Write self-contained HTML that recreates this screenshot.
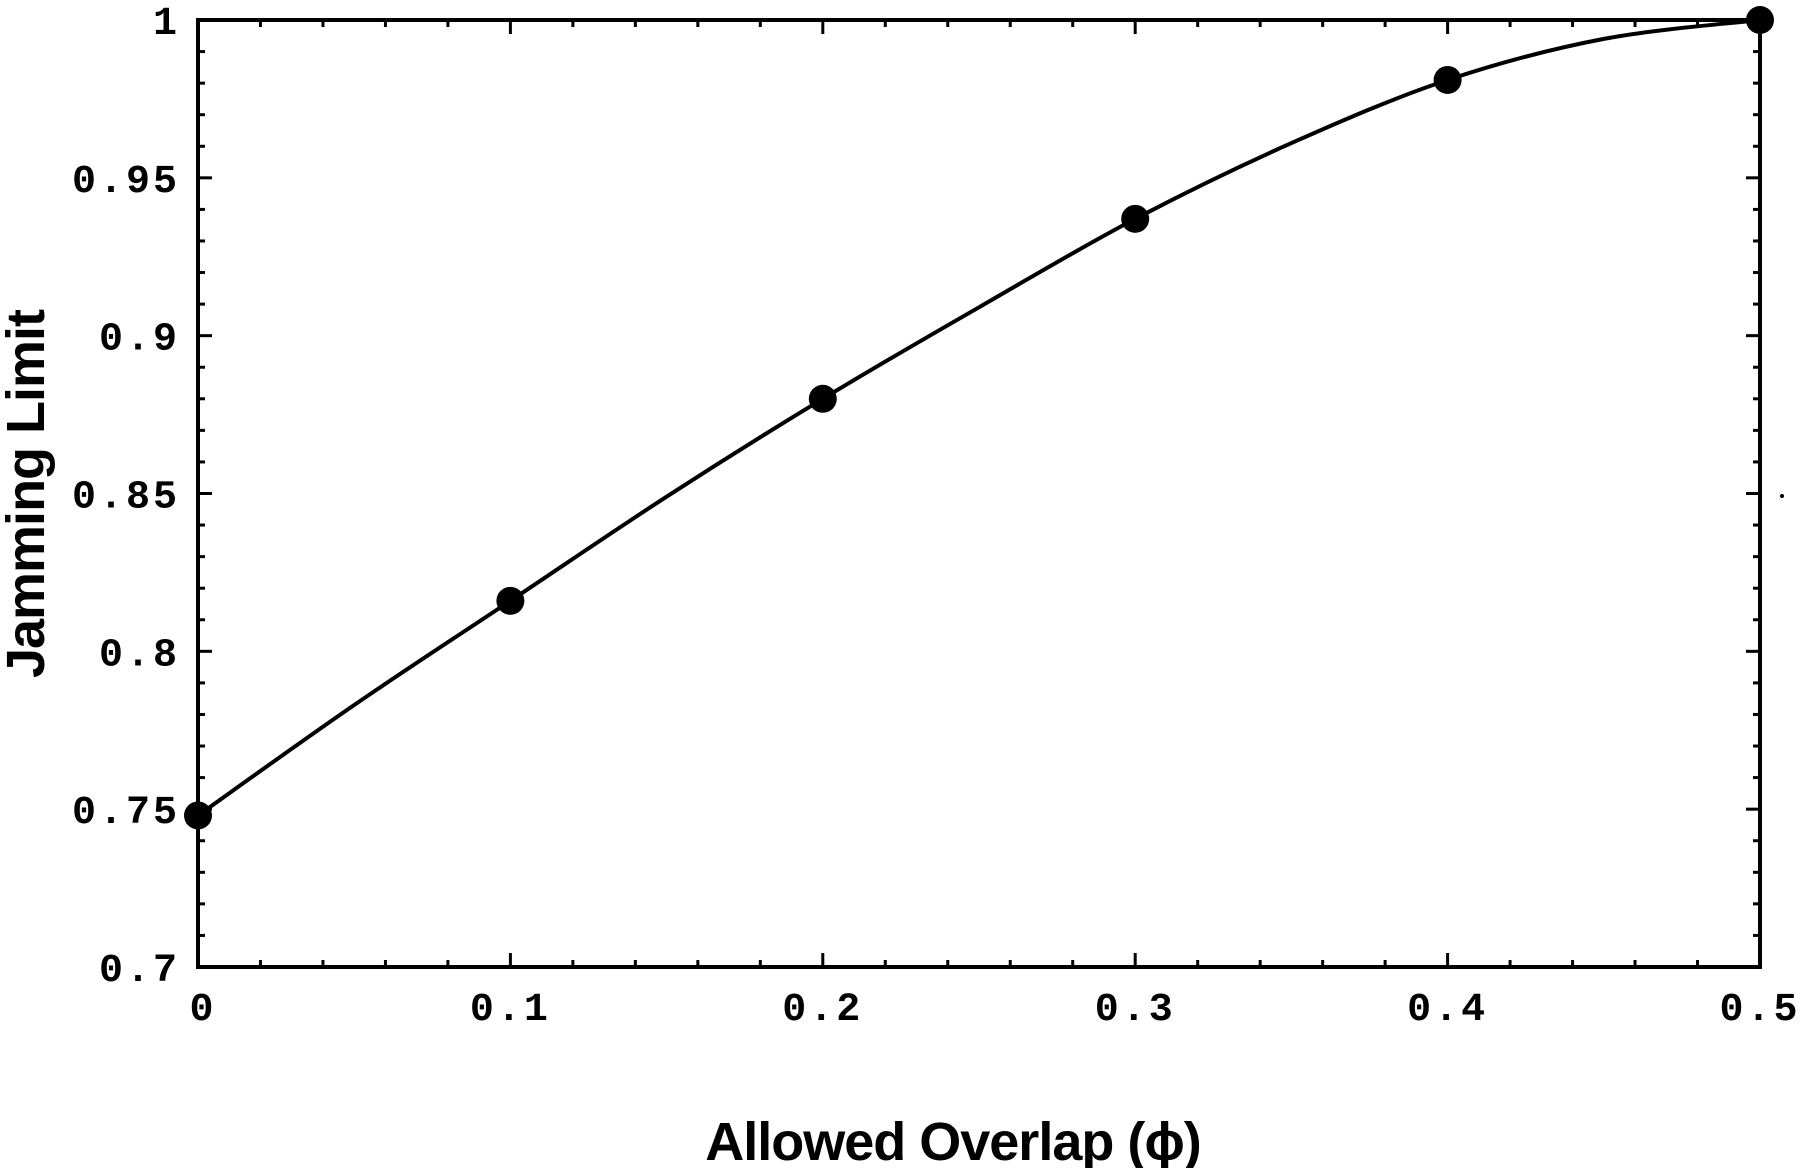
<!DOCTYPE html>
<html><head><meta charset="utf-8"><style>
html,body{margin:0;padding:0;background:#fff;}
svg{display:block;}
.tick{font-family:"Liberation Mono",monospace;font-weight:bold;font-size:40px;letter-spacing:3px;fill:#000;}
.title{font-family:"Liberation Sans",sans-serif;font-weight:bold;font-size:54px;fill:#000;letter-spacing:-1px;}
</style></head><body>
<svg id="chart" width="1800" height="1168" viewBox="0 0 1800 1168"></svg>
<script>
const xTicks=[0,0.1,0.2,0.3,0.4,0.5];
const xTickLabels=["0","0.1","0.2","0.3","0.4","0.5"];
const yTicks=[0.7,0.75,0.8,0.85,0.9,0.95,1];
const yTickLabels=["0.7","0.75","0.8","0.85","0.9","0.95","1"];
const pointX=[0,0.1,0.2,0.3,0.4,0.5];
const pointY=[0.748,0.816,0.880,0.937,0.981,1.0];
const curveX=[0,0.05,0.1,0.15,0.2,0.25,0.3,0.35,0.4,0.45,0.5];
const curveY=[0.748,0.783,0.816,0.849,0.880,0.909,0.937,0.961,0.981,0.994,1.0];

const L=198,R=1760,T=20,B=967;
const sx=v=>L+(v-0)/(0.5-0)*(R-L);
const sy=v=>B-(v-0.7)/(1-0.7)*(B-T);
const svg=document.getElementById('chart');
const NS='http://www.w3.org/2000/svg';
function mk(tag,attrs,parent){const e=document.createElementNS(NS,tag);for(const k in attrs)e.setAttribute(k,attrs[k]);(parent||svg).appendChild(e);return e;}

const frame=mk('rect',{x:L,y:T,width:R-L,height:B-T,fill:'none',stroke:'#000','stroke-width':4});



for(let i=0;i<=25;i++){const v=i*0.02;const x=sx(v);const len=(Math.abs(v*10-Math.round(v*10))<1e-6)?14:7;
 const t1=mk('line',{x1:x,y1:B,x2:x,y2:B-len,stroke:'#000','stroke-width':3});
 
 
 const t2=mk('line',{x1:x,y1:T,x2:x,y2:T+len,stroke:'#000','stroke-width':3});
 
 }
for(let i=0;i<=30;i++){const v=0.7+i*0.01;const y=sy(v);const len=(i%5===0)?14:7;
 const t1=mk('line',{x1:L,y1:y,x2:L+len,y2:y,stroke:'#000','stroke-width':3});
 
 
 const t2=mk('line',{x1:R,y1:y,x2:R-len,y2:y,stroke:'#000','stroke-width':3});
 
 }

xTicks.forEach((v,i)=>{const t=mk('text',{x:sx(v)+(i===0?5:0),y:1020,'text-anchor':'middle',class:'tick'});t.textContent=xTickLabels[i];
 
 });
yTicks.forEach((v,i)=>{const t=mk('text',{x:180,y:sy(v)+14,'text-anchor':'end',class:'tick'});t.textContent=yTickLabels[i];
 
 });

// smooth curve (Catmull-Rom to cubic Bezier)
const P=curveX.map((v,i)=>[sx(v),sy(curveY[i])]);
let d='M'+P[0][0].toFixed(1)+','+P[0][1].toFixed(1);
for(let i=0;i<P.length-1;i++){
 const p0=P[Math.max(i-1,0)],p1=P[i],p2=P[i+1],p3=P[Math.min(i+2,P.length-1)];
 const c1=[p1[0]+(p2[0]-p0[0])/6,p1[1]+(p2[1]-p0[1])/6];
 const c2=[p2[0]-(p3[0]-p1[0])/6,p2[1]-(p3[1]-p1[1])/6];
 d+='C'+c1.map(n=>n.toFixed(1)).join(',')+' '+c2.map(n=>n.toFixed(1)).join(',')+' '+p2.map(n=>n.toFixed(1)).join(',');
}
const path=mk('path',{d:d,fill:'none',stroke:'#000','stroke-width':4,'stroke-linejoin':'round'});



pointX.forEach((v,i)=>{const c=mk('circle',{cx:sx(v),cy:sy(pointY[i]),r:14,fill:'#000'});
 
 });

const dot=mk('circle',{cx:1782,cy:496,r:2,fill:'#000'});



const xt=mk('text',{x:953,y:1160,'text-anchor':'middle',class:'title'});xt.textContent='Allowed Overlap (\u03D5)';


const yt=mk('text',{x:0,y:0,'text-anchor':'middle',class:'title',transform:'translate(44,494) rotate(-90)'});yt.textContent='Jamming Limit';


</script>
</body></html>
